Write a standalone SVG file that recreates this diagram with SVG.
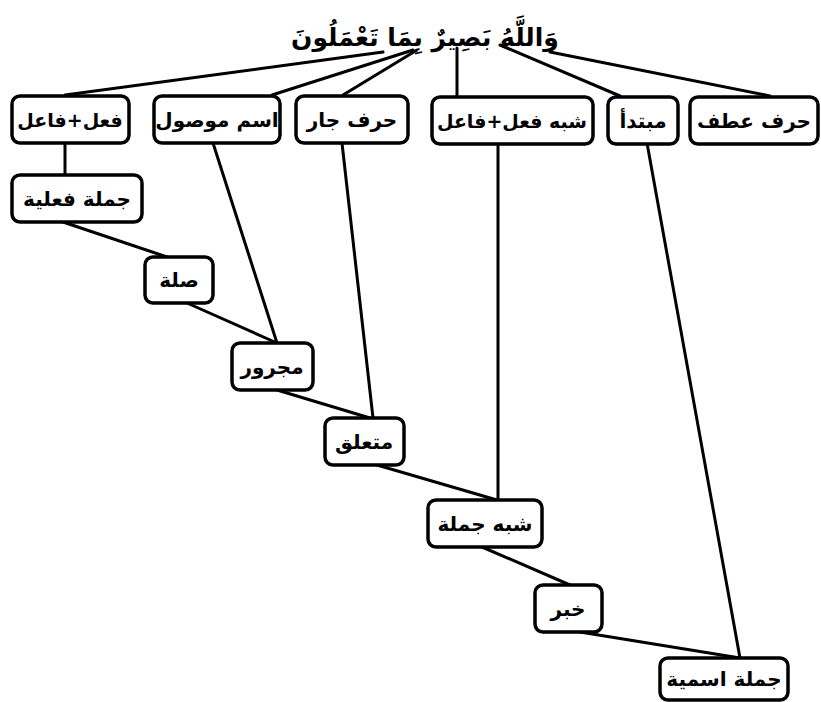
<svg xmlns="http://www.w3.org/2000/svg" width="821" height="702" viewBox="0 0 821 702">
<style>
.box{fill:#fff;stroke:#000;stroke-width:3.5}
.lbl{font-family:"DejaVu Sans",sans-serif;font-weight:bold;font-size:20px;text-anchor:middle;fill:#000}
.sm{font-size:19px}
.ttl{font-family:"DejaVu Sans",sans-serif;font-weight:bold;font-size:25px;text-anchor:middle;fill:#000}
.ln{stroke:#000;stroke-width:3;fill:none;stroke-linecap:round}
</style>
<rect width="821" height="702" fill="#fff"/>
<g id="connectors">
<line class="ln" x1="383" y1="52" x2="65" y2="95"/>
<line class="ln" x1="413" y1="50" x2="272" y2="95"/>
<line class="ln" x1="417" y1="50" x2="343" y2="95"/>
<line class="ln" x1="457" y1="48" x2="457" y2="97"/>
<line class="ln" x1="500" y1="45" x2="620" y2="96"/>
<line class="ln" x1="550" y1="52" x2="770" y2="96"/>
<line class="ln" x1="65" y1="142" x2="65" y2="175"/>
<line class="ln" x1="63" y1="222" x2="167" y2="257"/>
<line class="ln" x1="187" y1="303" x2="277" y2="343"/>
<line class="ln" x1="213" y1="143" x2="277" y2="343"/>
<line class="ln" x1="277" y1="390" x2="370" y2="418"/>
<line class="ln" x1="342" y1="143" x2="373" y2="418"/>
<line class="ln" x1="377" y1="465" x2="497" y2="500"/>
<line class="ln" x1="498" y1="143" x2="498" y2="500"/>
<line class="ln" x1="482" y1="547" x2="570" y2="585"/>
<line class="ln" x1="580" y1="632" x2="740" y2="658"/>
<line class="ln" x1="647" y1="143" x2="740" y2="658"/>
</g>
<g id="title"><text class="ttl" x="425" y="46">وَاللَّهُ بَصِيرٌ بِمَا تَعْمَلُونَ</text></g>
<g id="n-fil-fail"><rect class="box" x="12" y="96" width="117" height="47" rx="8"/><text class="lbl sm" x="70" y="127">فعل+فاعل</text></g>
<g id="n-ism-mawsul"><rect class="box" x="154" y="96" width="126" height="47" rx="8"/><text class="lbl" x="217" y="127">اسم موصول</text></g>
<g id="n-harf-jar"><rect class="box" x="296" y="96" width="112" height="47" rx="8"/><text class="lbl" x="352" y="127">حرف جار</text></g>
<g id="n-shibh-fil"><rect class="box" x="432" y="97" width="161" height="47" rx="8"/><text class="lbl sm" x="512" y="128">شبه فعل+فاعل</text></g>
<g id="n-mubtada"><rect class="box" x="608" y="97" width="70" height="47" rx="8"/><text class="lbl" x="643" y="128">مبتدأ</text></g>
<g id="n-harf-atf"><rect class="box" x="690" y="97" width="128" height="47" rx="8"/><text class="lbl" x="754" y="128">حرف عطف</text></g>
<g id="n-jumla-filiya"><rect class="box" x="12" y="175" width="130" height="47" rx="8"/><text class="lbl" x="77" y="206">جملة فعلية</text></g>
<g id="n-sila"><rect class="box" x="145" y="257" width="68" height="46" rx="8"/><text class="lbl" x="179" y="287">صلة</text></g>
<g id="n-majrur"><rect class="box" x="232" y="343" width="81" height="47" rx="8"/><text class="lbl" x="272" y="374">مجرور</text></g>
<g id="n-mutaalliq"><rect class="box" x="325" y="418" width="79" height="47" rx="8"/><text class="lbl" x="364" y="449">متعلق</text></g>
<g id="n-shibh-jumla"><rect class="box" x="428" y="500" width="114" height="47" rx="8"/><text class="lbl" x="485" y="531">شبه جملة</text></g>
<g id="n-khabar"><rect class="box" x="535" y="585" width="67" height="47" rx="8"/><text class="lbl" x="568" y="616">خبر</text></g>
<g id="n-jumla-ismiya"><rect class="box" x="660" y="658" width="128" height="42" rx="8"/><text class="lbl" x="724" y="686">جملة اسمية</text></g>
</svg>
